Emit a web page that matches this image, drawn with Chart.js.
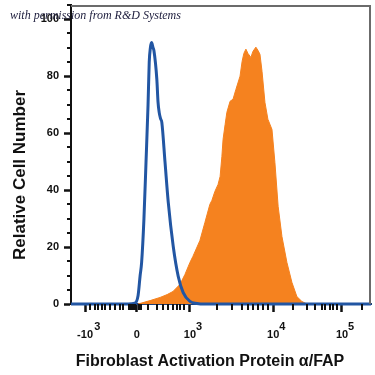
<!DOCTYPE html>
<html>
<head>
<meta charset="utf-8">
<script src="https://cdn.jsdelivr.net/npm/chart.js@4.4.1/dist/chart.umd.min.js"></script>
<style>
html,body{margin:0;padding:0;background:#fff;}
#wrap{width:375px;height:375px;position:relative;}
</style>
</head>
<body>
<div id="wrap"><canvas id="c"></canvas></div>
<script>
// ---- data (x in display channels 0..1024, y = relative cell number) ----
const isotypeChannels = [0, 195, 218, 229, 236, 241, 249, 256, 263, 267, 271, 275, 280, 283, 293, 297, 301, 306, 310, 321, 332, 349, 366, 383, 406, 430, 457, 1024];
const isotypeCounts   = [0, 0, 0.3, 3, 10, 14.5, 30, 49.7, 70, 84.9, 90, 91.8, 90, 89, 78.9, 71, 67.3, 65, 63.8, 49.7, 35.7, 20.2, 9.7, 4.0, 0.9, 0.2, 0, 0];

const fapChannels = [229, 270, 304, 328, 348, 372, 389, 406, 416, 440, 457, 474, 481, 491, 502, 509, 515, 519, 526, 532, 543, 553, 563, 577, 584, 590, 597, 604, 614, 621, 631, 638, 645, 652, 662, 672, 686, 696, 707, 720, 737, 754, 771, 788, 805];
const fapCounts   = [0, 1.2, 2.3, 3.3, 4.4, 6.9, 10.4, 14.6, 16.7, 22.3, 28.6, 35, 36.4, 39.5, 42, 44.8, 51.8, 57.8, 63, 67.3, 71.2, 71.9, 75.4, 80, 85.2, 88, 89.5, 88, 86.6, 88.7, 90.2, 89.1, 87.7, 81.7, 70.8, 64.9, 61.3, 49.7, 34.3, 23.7, 14.6, 7.6, 2.6, 0.9, 0];

const xTickChannels = [48, 225, 406, 690, 925];
const xTickBases    = ['-10', '0', '10', '10', '10'];
const xTickExps     = ['3', '', '3', '4', '5'];
const xMinorChannels = [65, 82, 92, 106, 116, 133, 150, 167, 178, 198, 205, 212, 218, 232, 239, 263, 294, 314, 331, 348, 362, 372, 386, 498, 550, 584, 604, 621, 638, 655, 672, 758, 806, 833, 857, 867, 884, 894, 908, 993];
const yMajorTicks = [0, 20, 40, 60, 80, 100];
const yMinorStep = 5;
const yMax = 105;

const xTitle = 'Fibroblast Activation Protein \u03b1/FAP';
const yTitle = 'Relative Cell Number';
const creditText = 'with permission from R&D Systems';

const toPoints = (xs, ys) => xs.map((x, i) => ({x: x, y: ys[i]}));

const decor = {
  id: 'decor',
  afterDraw(chart) {
    const ctx = chart.ctx, a = chart.chartArea;
    const xs = chart.scales.x, ys = chart.scales.y;
    ctx.save();
    // frame top/right
    ctx.strokeStyle = '#6b6b6b';
    ctx.lineWidth = 2;
    ctx.beginPath();
    ctx.moveTo(a.left, a.top + 1);
    ctx.lineTo(a.right - 1, a.top + 1);
    ctx.lineTo(a.right - 1, a.bottom);
    ctx.stroke();
    // minor ticks
    ctx.strokeStyle = '#111';
    ctx.lineWidth = 2;
    ctx.beginPath();
    for (let v = 0; v <= yMax; v += yMinorStep) {
      if (yMajorTicks.includes(v)) continue;
      const py = Math.round(ys.getPixelForValue(v));
      ctx.moveTo(a.left - 4, py);
      ctx.lineTo(a.left, py);
    }
    xMinorChannels.forEach(ch => {
      const px = Math.round(xs.getPixelForValue(ch));
      ctx.moveTo(px, a.bottom);
      ctx.lineTo(px, a.bottom + 6);
    });
    ctx.stroke();
    // titles
    ctx.fillStyle = '#111';
    ctx.textAlign = 'center';
    ctx.textBaseline = 'middle';
    ctx.font = 'bold 16px "Liberation Sans", Arial, sans-serif';
    ctx.fillText(xTitle, 210, 362);
    ctx.save();
    ctx.translate(20, 175);
    ctx.rotate(-Math.PI / 2);
    ctx.font = 'bold 17px "Liberation Sans", Arial, sans-serif';
    ctx.fillText(yTitle, 0, 0);
    ctx.restore();
    ctx.textAlign = 'left';
    ctx.textBaseline = 'alphabetic';
    ctx.fillStyle = '#1c1c3c';
    ctx.font = 'italic 12px "Liberation Serif", "DejaVu Serif", serif';
    ctx.fillText(creditText, 10, 19);
    ctx.restore();
  }
};

new Chart(document.getElementById('c'), {
  type: 'line',
  data: {
    datasets: [
      {
        label: 'Isotype control',
        data: toPoints(isotypeChannels, isotypeCounts),
        borderColor: '#2256a3',
        borderWidth: 3,
        fill: false,
        pointRadius: 0,
        cubicInterpolationMode: 'monotone',
        clip: 6
      },
      {
        label: 'FAP',
        data: toPoints(fapChannels, fapCounts),
        borderColor: '#f5821f',
        backgroundColor: '#f5821f',
        borderWidth: 1,
        fill: 'origin',
        pointRadius: 0,
        tension: 0
      }
    ]
  },
  options: {
    responsive: true,
    maintainAspectRatio: false,
    animation: false,
    layout: {padding: {top: 5, right: 4, left: 0, bottom: 0}},
    plugins: {legend: {display: false}, tooltip: {enabled: false}},
    scales: {
      x: {
        type: 'linear',
        min: 0,
        max: 1024,
        afterFit(s) { s.height = 71; s.paddingLeft = 0; s.paddingRight = 0; },
        afterBuildTicks(s) { s.ticks = xTickChannels.map(v => ({value: v})); },
        ticks: {
          autoSkip: false,
          maxRotation: 0,
          color: '#111',
          padding: 11,
          font: {family: '"Liberation Sans", Arial, sans-serif', size: 11, weight: 'bold', lineHeight: 0.75},
          callback(value) {
            const i = xTickChannels.indexOf(value);
            if (i < 0) return '';
            const exp = xTickExps[i];
            if (!exp) return ['', xTickBases[i]];
            const pad = xTickBases[i].length > 2 ? '        ' : '      ';
            return [pad + exp, xTickBases[i]];
          }
        },
        grid: {drawOnChartArea: false, drawTicks: true, tickLength: 8, tickWidth: 2.5, tickColor: '#111'},
        border: {display: true, color: '#1d3f78', width: 2}
      },
      y: {
        type: 'linear',
        min: 0,
        max: yMax,
        afterFit(s) { s.width = 71; s.paddingTop = 0; s.paddingBottom = 0; },
        afterBuildTicks(s) { s.ticks = yMajorTicks.map(v => ({value: v})); },
        ticks: {
          color: '#111',
          padding: 5,
          font: {family: '"Liberation Sans", Arial, sans-serif', size: 11, weight: 'bold'}
        },
        grid: {drawOnChartArea: false, drawTicks: true, tickLength: 7, tickWidth: 2.5, tickColor: '#111'},
        border: {display: true, color: '#111', width: 2}
      }
    }
  },
  plugins: [decor]
});
</script>
</body>
</html>
